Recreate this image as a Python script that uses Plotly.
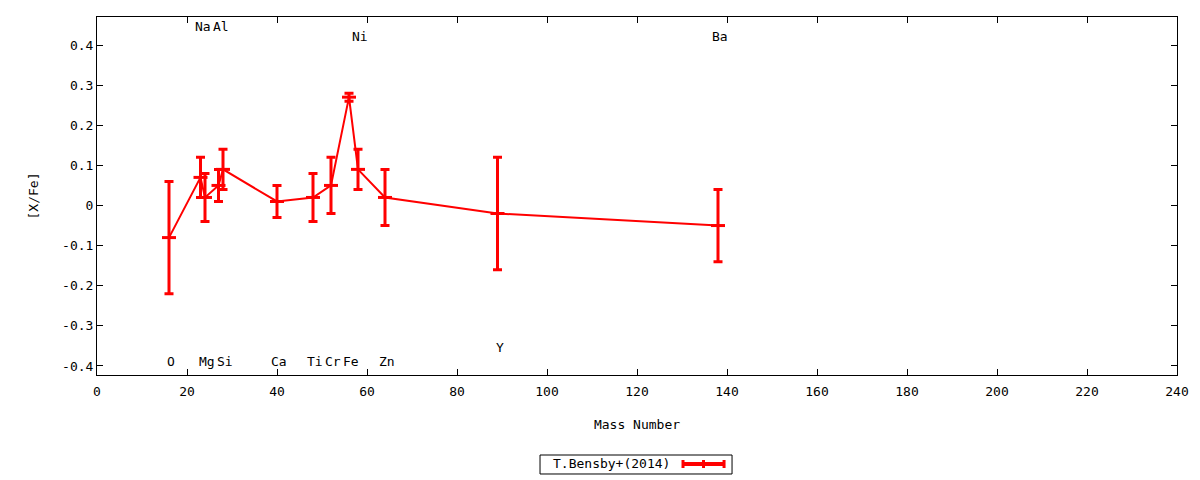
import plotly.graph_objects as go

# ---- data ----
elements = ["O", "Na", "Mg", "Al", "Si", "Ca", "Ti", "Cr", "Fe", "Ni", "Zn", "Y", "Ba"]
mass_number = [16, 23, 24, 27, 28, 40, 48, 52, 56, 58, 64, 89, 138]
x_fe = [-0.08, 0.07, 0.02, 0.05, 0.09, 0.01, 0.02, 0.05, 0.27, 0.09, 0.02, -0.02, -0.05]
x_fe_err = [0.14, 0.05, 0.06, 0.04, 0.05, 0.04, 0.06, 0.07, 0.01, 0.05, 0.07, 0.14, 0.09]
# y position of each element label
label_y = [-0.39, 0.445, -0.39, 0.445, -0.39, -0.39, -0.39, -0.39, -0.39, 0.42, -0.39, -0.355, 0.42]
series_name = "T.Bensby+(2014)"

x_ticks = list(range(0, 241, 20))
y_ticks = [-0.4, -0.3, -0.2, -0.1, 0, 0.1, 0.2, 0.3, 0.4]
y_tick_text = ["-0.4", "-0.3", "-0.2", "-0.1", "0", "0.1", "0.2", "0.3", "0.4"]

FONT = "DejaVu Sans Mono"
FS = 13
RED = "#ff0000"

fig = go.Figure()
fig.add_trace(go.Scatter(
    x=mass_number, y=x_fe, mode="lines+markers", name=series_name,
    line=dict(color=RED, width=2),
    marker=dict(symbol="line-ew", size=10, color=RED, line=dict(color=RED, width=3)),
    error_y=dict(type="data", array=x_fe_err, visible=True, color=RED, thickness=3, width=4.5),
    showlegend=False,
))

for el, mx, ly in zip(elements, mass_number, label_y):
    fig.add_annotation(x=mx, y=ly, text=el, showarrow=False, xref="x", yref="y",
                       xshift=2, font=dict(family=FONT, size=FS, color="black"))

# legend (gnuplot style: text then sample on the right)
fig.add_shape(type="rect", xref="paper", yref="paper", x0=0.4102, x1=0.588, y0=-0.2765, y1=-0.2235,
              line=dict(color="black", width=1), fillcolor="white", layer="below")
fig.add_annotation(xref="paper", yref="paper", x=0.476, y=-0.2486, yanchor="middle", xanchor="center",
                   text=series_name, showarrow=False,
                   font=dict(family=FONT, size=FS, color="black"))
fig.add_shape(type="line", xref="paper", yref="paper", x0=0.5426, x1=0.5806, y0=-0.2486, y1=-0.2486,
              line=dict(color=RED, width=4))
for xp in (0.5426, 0.5616, 0.5806):
    fig.add_shape(type="line", xref="paper", yref="paper", x0=xp, x1=xp, y0=-0.2598, y1=-0.2374,
                  line=dict(color=RED, width=3))

axis_common = dict(showline=True, linecolor="black", linewidth=1, mirror="allticks",
                   ticks="inside", ticklen=6, tickcolor="black", showgrid=False, zeroline=False,
                   tickfont=dict(family=FONT, size=FS, color="black"))
fig.update_xaxes(range=[0, 240], tickvals=x_ticks, ticklabelstandoff=4,
                 title=dict(text="Mass Number", font=dict(family=FONT, size=FS, color="black"), standoff=22),
                 **axis_common)
fig.update_yaxes(range=[-0.4225, 0.4698], tickvals=y_ticks, ticktext=y_tick_text,
                 title=dict(text="[X/Fe]", font=dict(family=FONT, size=FS, color="black"), standoff=20),
                 **axis_common)

fig.update_layout(width=1200, height=480, margin=dict(l=97, r=23, t=17, b=105),
                  plot_bgcolor="white", paper_bgcolor="white",
                  font=dict(family=FONT, size=FS, color="black"))

fig.write_html("out.html", config={"displayModeBar": False}, post_script=(
    "document.body.style.margin='0';document.body.style.padding='0';"
    "document.documentElement.style.overflow='hidden';document.body.style.overflow='hidden';"))
